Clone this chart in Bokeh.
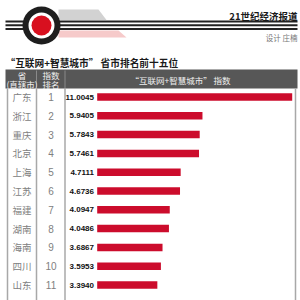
from bokeh.plotting import figure
from bokeh.models import Range1d, ColumnDataSource
from bokeh.core.properties import value
from bokeh.embed import file_html
from bokeh.resources import INLINE

# ---- data ----
provinces = ["广东", "浙江", "重庆", "北京", "上海", "江苏", "福建", "湖南", "海南", "四川", "山东", "湖北"]
ranks = [1, 2, 3, 4, 5, 6, 7, 8, 9, 10, 11, 12]
index_values = [11.0045, 5.9405, 5.7843, 5.7461, 4.7111, 4.6736, 4.0947, 4.0486, 3.6867, 3.5953, 3.3940, 3.19]
value_labels = ["11.0045", "5.9405", "5.7843", "5.7461", "4.7111", "4.6736", "4.0947", "4.0486", "3.6867", "3.5953", "3.3940", "3.1900"]

title_text = "“互联网+智慧城市” 省市排名前十五位"
brand_text = "21世纪经济报道"
credit_text = "设计 庄楠"
col_header = "“互联网+智慧城市” 指数"

CJK = value("Noto Sans CJK SC")
NUM = value("Liberation Sans")

# ---- layout constants (pixels) ----
W, H = 300, 300
bar_x0 = 96.7
px_per_unit = 195.0 / 11.0045
row0 = 96.5
row_h = 18.8

p = figure(width=W, height=H, x_range=Range1d(0, W), y_range=Range1d(H, 0),
           toolbar_location=None, output_backend="svg", min_border=0,
           x_axis_location=None, y_axis_location=None, outline_line_color=None,
           background_fill_color="white", border_fill_color="white")
p.grid.visible = False

p.extra_x_ranges = {"val": Range1d(-bar_x0 / px_per_unit, (W - bar_x0) / px_per_unit)}
p.extra_y_ranges = {"row": Range1d(1 + (H - row0) / row_h, 1 - row0 / row_h)}

# ---- masthead decoration ----
p.patch([58, 98, 106, 58], [9, 9, 19.5, 19.5], fill_color="#d2d2d2", line_color=None)
p.patch([58, 118, 126, 58], [30, 30, 37, 37], fill_color="#f6caca", line_color=None)
for yy in [21.0, 24.7, 28.4]:
    p.segment(x0=5, y0=yy, x1=297, y1=yy, line_color="#222222", line_width=2)
p.circle(x=[41], y=[25], radius=19, fill_color="#1e1e1e", line_color=None)
p.circle(x=[41], y=[25], radius=13, fill_color="white", line_color=None)
p.circle(x=[41], y=[25], radius=10, fill_color="#d8101f", line_color=None)

p.text(x=[297], y=[15], text=[brand_text], text_font=CJK, text_font_style="bold",
       text_font_size="9.5px", text_color="#1a1a1a", text_align="right", text_baseline="middle")
p.text(x=[297], y=[36.5], text=[credit_text], text_font=CJK,
       text_font_size="7.5px", text_color="#777777", text_align="right", text_baseline="middle")

# ---- title ----
p.text(x=[5], y=[62], text=[title_text], text_font=CJK, text_font_style="bold",
       text_font_size="9.7px", text_color="#1a1a1a", text_align="left", text_baseline="middle")

# ---- table frame ----
p.quad(left=5, right=297, top=69, bottom=88, fill_color="#575757", line_color=None)
for xx in [7, 295]:
    p.segment(x0=xx, y0=88, x1=xx, y1=300, line_color="#a8a8a8", line_width=1.5)
for xx in [36, 64.5]:
    p.segment(x0=xx, y0=70, x1=xx, y1=88, line_color="#8a8a8a", line_width=1)
    p.segment(x0=xx, y0=88, x1=xx, y1=300, line_color="#a8a8a8", line_width=1.5)

hdr = dict(text_font=CJK, text_color="#f0f0f0", text_align="center", text_baseline="middle")
p.text(x=[21.5], y=[74.5], text=["省"], text_font_size="8.5px", **hdr)
p.text(x=[21.5], y=[83], text=["(直辖市)"], text_font_size="8.5px", **hdr)
p.text(x=[50.5], y=[74.5], text=["指数"], text_font_size="8.5px", **hdr)
p.text(x=[50.5], y=[83], text=["排名"], text_font_size="8.5px", **hdr)
p.text(x=[180], y=[79], text=[col_header], text_font_size="8.5px", **hdr)

# ---- data rows ----
src = ColumnDataSource(dict(rank=ranks, prov=provinces, val=index_values, lab=value_labels,
                            rank_txt=[str(r) for r in ranks]))

p.hbar(y="rank", left=0, right="val", height=0.4, source=src,
       x_range_name="val", y_range_name="row", fill_color="#cc0c2c", line_color=None)

p.text(x=-3.2 / px_per_unit, y="rank", text="lab", source=src, x_range_name="val", y_range_name="row",
       text_font=NUM, text_font_style="bold", text_font_size="8px", text_color="#111111",
       text_align="right", text_baseline="middle")
p.text(x=21.5, y="rank", text="prov", source=src, y_range_name="row",
       text_font=CJK, text_font_size="9.5px", text_color="#808080",
       text_align="center", text_baseline="middle")
p.text(x=50.5, y="rank", text="rank_txt", source=src, y_range_name="row",
       text_font=value("Liberation Sans"), text_font_size="10px", text_color="#808080",
       text_align="center", text_baseline="middle")

open("out.html", "w").write(file_html(p, INLINE))
